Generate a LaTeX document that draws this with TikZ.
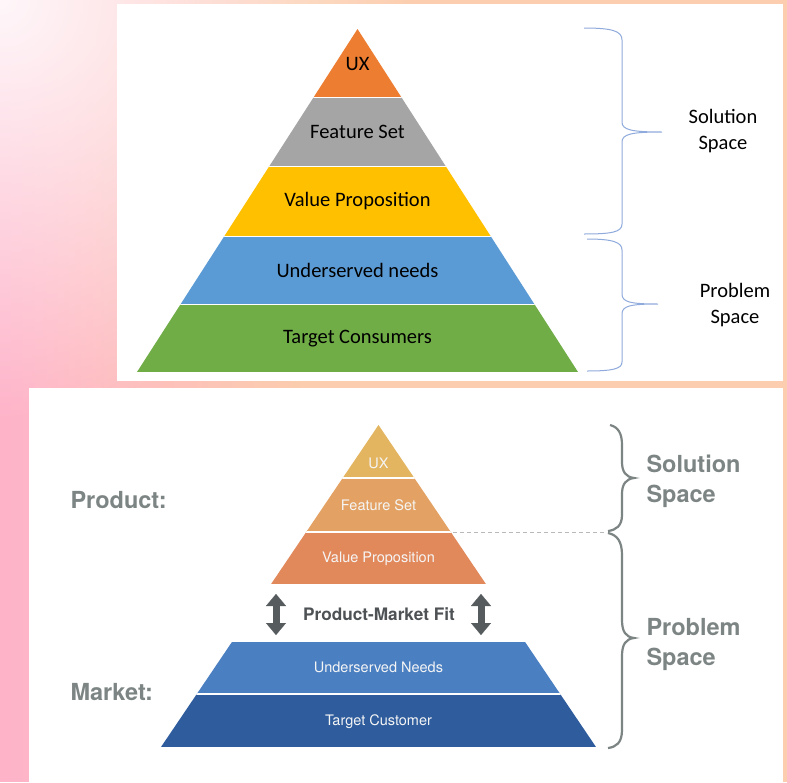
\documentclass[tikz,border=0pt]{standalone}
\usepackage{fontspec}
\usepackage{tikz}
\usetikzlibrary{arrows.meta,fadings}
\newfontfamily\calibri{Carlito}
\newfontfamily\helv{TeX Gyre Heros}
\definecolor{uxtop}{HTML}{ED7D31}
\definecolor{fstop}{HTML}{A5A5A5}
\definecolor{vptop}{HTML}{FFC000}
\definecolor{untop}{HTML}{5B9BD5}
\definecolor{tctop}{HTML}{70AD47}
\definecolor{uxbot}{HTML}{E3B560}
\definecolor{fsbot}{HTML}{E3A263}
\definecolor{vpbot}{HTML}{E2895C}
\definecolor{unbot}{HTML}{4A7FC1}
\definecolor{tcbot}{HTML}{2E5C9D}
\definecolor{bracetop}{HTML}{8FAADC}
\definecolor{greytxt}{HTML}{7D8584}
\definecolor{arrowgrey}{HTML}{565B5E}
\definecolor{bgpink}{HTML}{FFB3CA}
\definecolor{bgpeach}{HTML}{FCCDAE}
\tikzfading[name=fade right, left color=transparent!0, right color=transparent!100]
\tikzfading[name=glow, inner color=transparent!10, outer color=transparent!100]

\begin{document}
\begin{tikzpicture}
[x=1pt,y=-1pt,
toplabel/.style={font=\calibri\fontsize{20.5}{26}\selectfont,text=black,align=center},
botlabel/.style={font=\helv\fontsize{14.5}{17}\selectfont,text=white!96!black},
sidelabel/.style={font=\helv\bfseries\fontsize{23.5}{30}\selectfont,text=greytxt,align=left,anchor=west},
fitarrow/.style={arrowgrey,line width=7pt,{Triangle[width=20pt,length=12pt,line width=0.1pt]}-{Triangle[width=20pt,length=12pt,line width=0.1pt]}},
]
\useasboundingbox (0,0) rectangle (787,782);
% background
\begin{scope}
\clip (0,0) rectangle (787,782);
\fill[bgpeach] (0,0) rectangle (787,782);
\fill[bgpink, path fading=fade right] (0,0) rectangle (300,782);
\fill[white, path fading=glow] (0,0) circle (420);
\end{scope}
\fill[white] (117,4) rectangle (783,381);
\fill[white] (29,388) rectangle (783,782);

% upper pyramid
\begin{scope}
\clip (357.5,29) -- (137,372) -- (578,372) -- cycle;
\fill[uxtop] (130,29) rectangle (590,97);
\fill[fstop] (130,97) rectangle (590,166);
\fill[vptop] (130,166) rectangle (590,236);
\fill[untop] (130,236) rectangle (590,304);
\fill[tctop] (130,304) rectangle (590,372);
\foreach \y in {97,166,236,304} \draw[white,line width=1pt] (130,\y) -- (590,\y);
\end{scope}
\node (UX) at (357.5,64)[toplabel]{UX};
\node (FS) at (357.5,132)[toplabel]{Feature Set};
\node (VP) at (357.5,201)[toplabel]{Value Proposition};
\node (UN) at (357.5,270)[toplabel]{Underserved needs};
\node (TC) at (357.5,339)[toplabel]{Target Consumers};
\node (SS) at (723,131)[toplabel]{Solution\\Space};
\node (PS) at (735,305)[toplabel]{Problem\\Space};
\draw[bracetop,line width=1pt] (584,28) .. controls (612,28) and (622,31) .. (622,40) -- (622,122)
  .. controls (622,130) and (632,132) .. (662,132) .. controls (632,132) and (622,134) .. (622,142)
  -- (622,224) .. controls (622,232) and (612,234) .. (584,234);
\draw[bracetop,line width=1pt] (587,239) .. controls (612,239) and (622,242) .. (622,250) -- (622,294)
  .. controls (622,302) and (630,304) .. (658,304) .. controls (630,304) and (622,306) .. (622,314)
  -- (622,362) .. controls (622,369) and (612,371) .. (587,371);

% lower pyramid
\begin{scope}
\clip (378.5,425) -- (161,747) -- (596,747) -- cycle;
\fill[uxbot] (150,425) rectangle (610,478);
\fill[fsbot] (150,478) rectangle (610,532);
\fill[vpbot] (150,532) rectangle (610,584);
\fill[unbot] (150,642) rectangle (610,694);
\fill[tcbot] (150,694) rectangle (610,747);
\foreach \y in {478,532,694} \draw[white,line width=2.5pt] (150,\y) -- (610,\y);
\end{scope}
\node (UX2) at (378.5,463)[botlabel]{UX};
\node (FS2) at (378.5,505)[botlabel]{Feature Set};
\node (VP2) at (378.5,559)[botlabel]{Value Proposition};
\node (UN2) at (378.5,667)[botlabel]{Underserved Needs};
\node (TC2) at (378.5,722)[botlabel]{Target Customer};
\node (PMF) at (379,614)[font=\helv\bfseries\fontsize{17.2}{20}\selectfont,text=arrowgrey!90!black]{Product-Market Fit};
\coordinate (L1) at (276,594);
\coordinate (L2) at (276,635);
\coordinate (R1) at (481,594);
\coordinate (R2) at (481,635);
\draw[fitarrow] (L1) -- (L2);
\draw[fitarrow] (R1) -- (R2);
\node (P) at (67,500)[sidelabel]{Product:};
\node (M) at (67,692)[sidelabel]{Market:};
\node (S2) at (643,481)[sidelabel]{Solution\\Space};
\node (Q2) at (643,644)[sidelabel]{Problem\\Space};
\coordinate (D1) at (453,532);
\coordinate (D2) at (607,532);
\draw[gray!55,line width=1pt,dash pattern=on 4pt off 3pt] (D1) -- (D2);
\draw[greytxt,line width=2.2pt] (610,425) .. controls (618,427) and (622,433) .. (622,445) -- (622,462)
  .. controls (622,472) and (626,477) .. (634,478) .. controls (626,479) and (622,484) .. (622,494)
  -- (622,515) .. controls (622,526) and (616,530) .. (608,531);
\draw[greytxt,line width=2.2pt] (608,533) .. controls (617,535) and (622,541) .. (622,555) -- (622,620)
  .. controls (622,632) and (626,637) .. (634,638) .. controls (626,639) and (622,644) .. (622,656)
  -- (622,730) .. controls (622,743) and (616,747) .. (608,748);
\end{tikzpicture}
\end{document}
